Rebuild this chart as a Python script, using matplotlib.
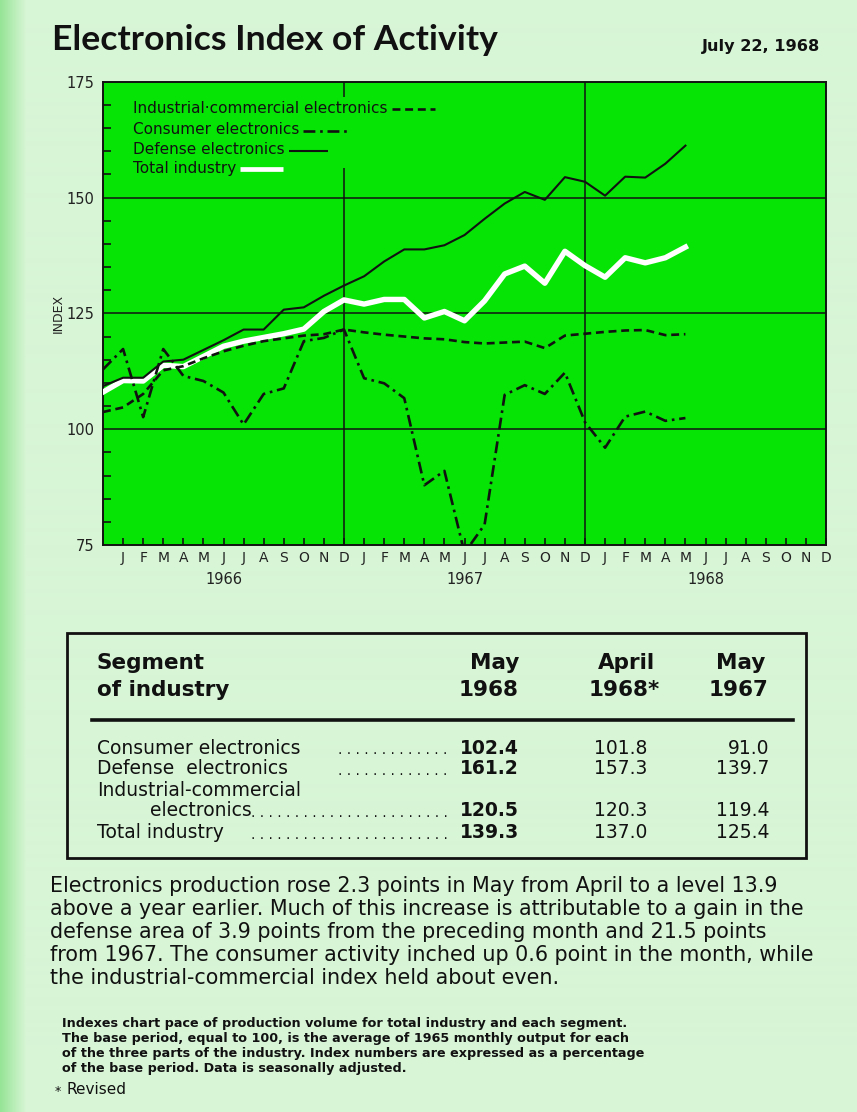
import numpy as np
import matplotlib.pyplot as plt
from matplotlib.lines import Line2D
from matplotlib.patches import Rectangle

# monthly index values, Dec 1965 .. May 1968 (1965 average = 100)
consumer = [112.9, 117.3, 102.6, 117.3, 111.5, 110.4, 107.9, 101.0, 107.6, 108.8, 119.0, 119.7, 121.5,
            111.0, 109.9, 106.7, 87.9, 91.0, 73.3, 79.4, 107.4, 109.5, 107.6, 112.2, 101.5,
            96.0, 102.7, 103.8, 101.8, 102.4]
defense = [109.3, 111.1, 111.1, 114.6, 115.0, 117.1, 119.2, 121.5, 121.5, 125.8, 126.3, 128.8, 131.0,
           133.0, 136.2, 138.8, 138.8, 139.7, 141.9, 145.4, 148.7, 151.2, 149.5, 154.4, 153.4,
           150.4, 154.5, 154.3, 157.3, 161.2]
industrial = [103.7, 104.7, 107.6, 112.7, 113.6, 115.3, 116.8, 118.0, 119.0, 119.6, 120.2, 120.5, 121.5,
              120.9, 120.4, 120.0, 119.6, 119.4, 118.8, 118.5, 118.7, 118.9, 117.5, 120.2, 120.6,
              121.0, 121.3, 121.4, 120.3, 120.5]
total = [108.0, 110.5, 110.4, 113.8, 113.5, 115.7, 117.9, 119.0, 119.8, 120.6, 121.6, 125.4, 127.9,
         127.0, 128.0, 128.0, 124.0, 125.4, 123.4, 127.7, 133.5, 135.2, 131.5, 138.4, 135.3,
         132.8, 137.0, 135.9, 137.0, 139.3]

month_letters = list("JFMAMJJASOND") * 3
years = ["1966", "1967", "1968"]
y_ticks = [75, 100, 125, 150, 175]

legend_labels = ["Industrial\u00b7commercial electronics", "Consumer electronics",
                 "Defense electronics", "Total industry"]

paragraph = [
    "Electronics production rose 2.3 points in May from April to a level 13.9",
    "above a year earlier. Much of this increase is attributable to a gain in the",
    "defense area of 3.9 points from the preceding month and 21.5 points",
    "from 1967. The consumer activity inched up 0.6 point in the month, while",
    "the industrial-commercial index held about even.",
]
footnote = [
    "Indexes chart pace of production volume for total industry and each segment.",
    "The base period, equal to 100, is the average of 1965 monthly output for each",
    "of the three parts of the industry. Index numbers are expressed as a percentage",
    "of the base period. Data is seasonally adjusted.",
]

PAGE = "#d8f6d6"
PLOT = "#06e406"
INK = "#111111"

DASH = (0, (3, 1.8))
DASHDOT = (0, (4.5, 1.8, 1, 1.8))

W, H = 857, 1112
fig = plt.figure(figsize=(W / 100, H / 100), dpi=100)
fig.patch.set_facecolor(PAGE)


def fx(x):
    return x / W


def fy(y):
    return 1 - y / H


def fit(t, width):
    w = t.get_window_extent(fig.canvas.get_renderer()).width
    t.set_fontsize(t.get_fontsize() * width / w)


# slightly deeper green along the left edge of the sheet
bg = fig.add_axes([0, 0, 1, 1], zorder=-10)
bg.axis("off")
edge = np.clip(np.linspace(0, 1, W) * W / 26, 0, 1)
c0 = np.array([150, 228, 150]) / 255
c1 = np.array([216, 246, 214]) / 255
img = (c0[None, :] * (1 - edge[:, None]) + c1[None, :] * edge[:, None])[None, :, :]
bg.imshow(img, aspect="auto", extent=[0, 1, 0, 1])

# ---- chart ----
ax = fig.add_axes([fx(103), fy(545), (826 - 103) / W, (545 - 81.7) / H])
ax.set_facecolor(PLOT)
x = np.arange(len(total))

ax.plot(x, total, color="white", lw=3.9, zorder=3)
ax.plot(x, defense, color=INK, lw=1.5, zorder=4)
ax.plot(x, industrial, color=INK, lw=1.9, ls=DASH, zorder=4)
ax.plot(x, consumer, color=INK, lw=1.9, ls=DASHDOT, zorder=4)

ax.set_xlim(0, 36)
ax.set_ylim(75, 175)
ax.hlines([100, 125, 150], 0, 36, color=INK, lw=1.1, zorder=2)
ax.vlines(12, 75, 156.4, color=INK, lw=1.1, zorder=2)
ax.vlines(12, 171.7, 175, color=INK, lw=1.1, zorder=2)
ax.vlines(24, 75, 175, color=INK, lw=1.1, zorder=2)
for s in ax.spines.values():
    s.set_linewidth(1.4)
    s.set_color(INK)

ax.set_yticks(y_ticks)
ax.set_yticklabels([str(v) for v in y_ticks], fontsize=10.5, color="#222222")
ax.set_yticks([v for v in range(75, 176, 5) if v % 25], minor=True)
ax.tick_params(axis="y", which="major", length=0, pad=6)
ax.tick_params(axis="y", which="minor", direction="in", length=5.5, width=1.2, color=INK)

ax.set_xticks(np.arange(1, 37))
ax.set_xticklabels(month_letters, fontsize=10, color="#222222")
ax.set_xticks([6, 18, 30], minor=True)
ax.tick_params(axis="x", which="major", direction="in", length=5, width=1.2, color=INK, pad=4)
ax.tick_params(axis="x", which="minor", direction="in", length=7.5, width=1.2, color=INK)
for i, yr in enumerate(years):
    ax.text(6 + 12 * i, -0.075, yr, transform=ax.get_xaxis_transform(),
            ha="center", va="center", fontsize=10.5, color="#222222")

fig.text(fx(58), fy(313), "INDEX", rotation=90, ha="center", va="center",
         fontsize=9, color="#222222")

# legend: label first, line sample after it
samples = [
    (108, dict(color=INK, lw=1.9, ls=DASH), 43),
    (130, dict(color=INK, lw=1.9, ls=DASHDOT), 47),
    (150, dict(color=INK, lw=1.5, ls="-"), 39),
    (168, dict(color="white", lw=3.4, ls="-"), 43),
]
r = fig.canvas.get_renderer()
for label, (ypx, st, n) in zip(legend_labels, samples):
    t = fig.text(fx(133), fy(ypx), label, fontsize=11, color=INK, va="center")
    x_end = t.get_window_extent(r).x1
    fig.add_artist(Line2D([(x_end + 4) / W, (x_end + 4 + n) / W], [fy(ypx + 1), fy(ypx + 1)],
                          transform=fig.transFigure, solid_capstyle="butt", **st))

# ---- heading ----
t = fig.text(fx(52), fy(40), "Electronics Index of Activity", fontsize=24,
             fontweight="bold", family="Lato", color=INK, va="center")
fit(t, 445)
t = fig.text(fx(820), fy(46), "July 22, 1968", fontsize=10, fontweight="bold",
             color=INK, va="center", ha="right")
fit(t, 118)

# ---- table ----
fig.add_artist(Rectangle((fx(67), fy(858)), (806 - 67) / W, (858 - 633) / H,
                         fill=False, lw=2, ec=INK, transform=fig.transFigure))
fig.add_artist(Line2D([fx(92), fx(793)], [fy(720), fy(720)], lw=2.6, color=INK,
                      transform=fig.transFigure))

hkw = dict(fontsize=15.5, fontweight="bold", color=INK, va="center")
fig.text(fx(97), fy(663), "Segment", **hkw)
fig.text(fx(97), fy(690), "of industry", **hkw)
fig.text(fx(519), fy(663), "May", ha="right", **hkw)
fig.text(fx(519), fy(690), "1968", ha="right", **hkw)
fig.text(fx(626), fy(663), "April", ha="center", **hkw)
fig.text(fx(624), fy(690), "1968*", ha="center", **hkw)
fig.text(fx(741), fy(663), "May", ha="center", **hkw)
fig.text(fx(768), fy(690), "1967", ha="right", **hkw)

rows = [
    ("Consumer electronics", 97, 748, consumer, 13),
    ("Defense  electronics", 97, 769, defense, 13),
    ("Industrial-commercial", 97, 790, None, 0),
    ("electronics", 150, 811, industrial, 23),
    ("Total industry", 97, 833, total, 23),
]
rkw = dict(fontsize=13.5, color=INK, va="center")
for label, xl, ypx, series, ndots in rows:
    fig.text(fx(xl), fy(ypx), label, **rkw)
    if series is None:
        continue
    fig.text(fx(452), fy(ypx + 2), ". " * ndots, fontsize=10, color=INK,
             va="center", ha="right")
    fig.text(fx(519), fy(ypx), f"{series[29]:.1f}", ha="right", fontweight="bold", **rkw)
    fig.text(fx(647), fy(ypx), f"{series[28]:.1f}", ha="right", **rkw)
    fig.text(fx(769), fy(ypx), f"{series[17]:.1f}", ha="right", **rkw)

# ---- text below ----
lines = []
for i, s in enumerate(paragraph):
    lines.append(fig.text(fx(50), fy(886 + 23 * i), s, fontsize=13.5, color=INK, va="center"))
fit(lines[3], 765)
for t in lines:
    t.set_fontsize(lines[3].get_fontsize())

for i, s in enumerate(footnote):
    fig.text(fx(62), fy(1024 + 14.8 * i), s, fontsize=9.2, fontweight="bold",
             color=INK, va="center")

fig.text(fx(55), fy(1091), "*", fontsize=9, color=INK, va="center")
fig.text(fx(67), fy(1090), "Revised", fontsize=11, color=INK, va="center")

fig.savefig("out.png", dpi=100, facecolor=fig.get_facecolor())
